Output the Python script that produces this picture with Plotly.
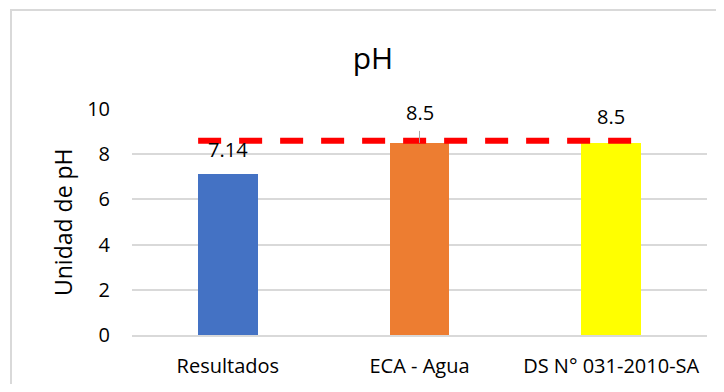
import plotly.graph_objects as go

# ---- data ----
categories = ["Resultados", "ECA - Agua", "DS N° 031-2010-SA"]
ph_values = [7.14, 8.5, 8.5]
value_labels = ["7.14", "8.5", "8.5"]
limit_value = 8.6
y_ticks = [0, 2, 4, 6, 8, 10]

# ---- style ----
bar_colors = ["#4472C4", "#ED7D31", "#FFFF00"]
bar_width = 0.31
label_shift = [24, 30, 26]  # px above bar top
FONT = "Open Sans"
OFF = 8  # page body margin
W, H = 724 - 2 * OFF, 392 - 2 * OFF
L, T = 132 - OFF, 109 - OFF
R = W - (707 - OFF)
B = H - (335 - OFF)
plot_w = W - L - R
plot_h = H - T - B

fig = go.Figure()
fig.add_trace(go.Bar(
    x=categories, y=ph_values, width=bar_width,
    marker=dict(color=bar_colors, line=dict(width=0)),
    showlegend=False, hoverinfo="x+y",
))

# dashed limit line across the bars
fig.add_shape(type="line", xref="x", yref="y",
              x0=-bar_width / 2, x1=len(categories) - 1 + bar_width / 2,
              y0=limit_value, y1=limit_value,
              line=dict(color="#FF0000", width=6, dash="23px,18px"))

# value labels
for i, (c, v, t) in enumerate(zip(categories, ph_values, value_labels)):
    if i == 1:
        fig.add_annotation(x=c, y=v, text=t, showarrow=True, ax=0, ay=-label_shift[i],
                           arrowhead=0, arrowwidth=1, arrowcolor="#A6A6A6",
                           startstandoff=3, standoff=0,
                           font=dict(family=FONT, size=20, color="#000000"))
    else:
        fig.add_annotation(x=c, y=v, text=t, showarrow=False, yanchor="middle",
                           yshift=label_shift[i],
                           font=dict(family=FONT, size=20, color="#000000"))

# y axis title
fig.add_annotation(xref="paper", yref="paper", x=(63 - 132) / plot_w, y=0.5,
                   text="Unidad de pH", textangle=-90, showarrow=False,
                   xanchor="center", yanchor="middle",
                   font=dict(family=FONT, size=23, color="#000000"))

# chart border (right and bottom edges fall outside the picture)
fig.add_shape(type="rect", xref="paper", yref="paper",
              x0=(11 - 132) / plot_w, x1=(W + 20 - L) / plot_w,
              y0=-(B + 20) / plot_h, y1=(335 - 10) / plot_h,
              line=dict(color="#D9D9D9", width=2), fillcolor="rgba(0,0,0,0)",
              layer="below")

fig.update_layout(
    width=W, height=H,
    margin=dict(l=L, r=R, t=T, b=B, autoexpand=False),
    paper_bgcolor="white", plot_bgcolor="white",
    title=dict(text="pH", x=(373 - OFF) / W, xanchor="center", xref="container",
               y=1 - (58 - OFF) / H, yanchor="middle", yref="container",
               font=dict(family=FONT, size=30, color="#000000")),
    font=dict(family=FONT, size=20, color="#000000"),
    bargap=0,
)
fig.update_xaxes(type="category", range=[-0.5, len(categories) - 0.5],
                 showline=True, linecolor="#D9D9D9", linewidth=1.5,
                 showgrid=False, ticks="", ticklabelstandoff=12,
                 tickfont=dict(family=FONT, size=20, color="#000000"),
                 fixedrange=True)
fig.update_yaxes(range=[0, 10], tickvals=y_ticks, showgrid=True,
                 gridcolor="#D9D9D9", gridwidth=1.5, zeroline=False,
                 showline=False, ticks="", ticklabelstandoff=21,
                 tickfont=dict(family=FONT, size=20, color="#000000"),
                 fixedrange=True)

fig.write_html("out.html")
